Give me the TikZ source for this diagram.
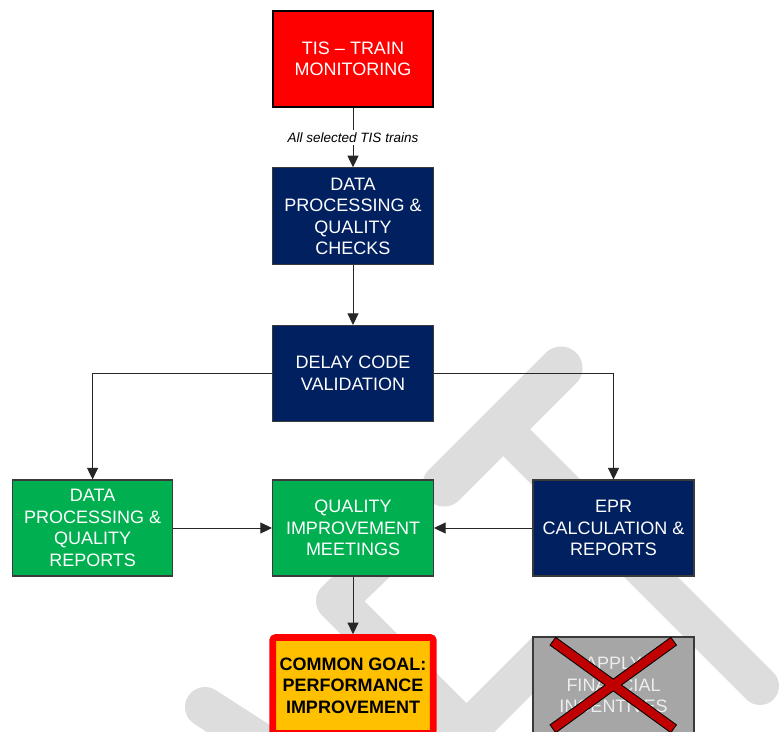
\documentclass[tikz,border=0pt]{standalone}
\usepackage{fontspec}
\setmainfont{Liberation Sans}
\usetikzlibrary{arrows.meta}
\definecolor{navyc}{HTML}{002060}
\definecolor{greenc}{HTML}{00B050}
\definecolor{orangec}{HTML}{FFC000}
\definecolor{redc}{HTML}{FF0000}
\definecolor{darkredc}{HTML}{C00000}
\definecolor{grayc}{HTML}{A6A6A6}
\definecolor{wmc}{HTML}{DDDDDD}
\definecolor{linec}{HTML}{3A3A3A}
\definecolor{fadetext}{HTML}{EDEDED}
\begin{document}
\begin{tikzpicture}[x=1pt,y=-1pt,
  box/.style={draw=linec, line width=1.2pt, minimum width=161pt, minimum height=96pt,
    align=center, text=white, inner sep=0pt, font=\fontsize{18}{21.6}\selectfont},
  navybox/.style={box, fill=navyc},
  greenbox/.style={box, fill=greenc},
  redbox/.style={box, fill=redc, draw=black, line width=2.7pt, minimum width=160pt},
  goalbox/.style={box, fill=orangec, draw=redc, line width=6.7pt, rounded corners=3pt,
    minimum width=160.6pt, text=black, font=\fontsize{18}{21.6}\selectfont\bfseries},
  offbox/.style={box, fill=grayc, text=fadetext},
  conn/.style={draw=black!85, line width=0.9pt, -{Triangle[length=11.5pt,width=11pt]}},
  lbl/.style={fill=white, text=black, inner xsep=1pt, inner ysep=2.5pt,
    font=\fontsize{13.5}{16}\selectfont\itshape},
  band/.style={draw=wmc, line width=40pt, line cap=round, line join=round},
]
\clip (0,0) rectangle (781,731);
\fill[white] (0,0) rectangle (781,731);

% watermark
\draw[band, line width=43pt] (561,368) -- (444,485);
\draw[band, line width=38pt] (502,428) -- (760,686);
\draw[band, line cap=butt] (400,539) -- (336,601) -- (466.5,731.5) -- (547,651);
\draw[band] (205,707) -- (298,767);

% nodes
\node[redbox] (tis) at (353,59) {TIS – TRAIN\\MONITORING};
\node[navybox, minimum height=97pt] (dpq) at (353,216.3) {DATA\\PROCESSING \&\\QUALITY\\CHECKS};
\node[navybox] (dcv) at (353,373.5) {DELAY CODE\\VALIDATION};
\node[greenbox, minimum width=160pt] (dpr) at (92.6,528) {DATA\\PROCESSING \&\\QUALITY\\REPORTS};
\node[greenbox] (qim) at (353,528) {QUALITY\\IMPROVEMENT\\MEETINGS};
\node[navybox] (epr) at (613.5,528) {EPR\\CALCULATION \&\\REPORTS};
\node[goalbox] (cg) at (353,685.5) {COMMON GOAL:\\PERFORMANCE\\IMPROVEMENT};
\node[offbox] (afi) at (613.5,685) {APPLY\\FINANCIAL\\INCENTIVES};

% connectors
\draw[conn] (tis) -- node[lbl] {All selected TIS trains} (dpq);
\draw[conn] (dpq) -- (dcv);
\draw[conn] (dcv.west) -| (dpr.north);
\draw[conn] (dcv.east) -| (epr.north);
\draw[conn] (dpr.east) -- (qim.west);
\draw[conn] (epr.west) -- (qim.east);
\draw[conn] (qim.south) -- (cg.north);

% cross over the dropped step
\draw[line width=10.5pt, black] (552.5,641) -- (674,729) (674,641) -- (552.5,729);
\draw[line width=8.5pt, darkredc, shorten >=1pt, shorten <=1pt] (552.5,641) -- (674,729);
\draw[line width=8.5pt, darkredc, shorten >=1pt, shorten <=1pt] (674,641) -- (552.5,729);
\end{tikzpicture}
\end{document}
